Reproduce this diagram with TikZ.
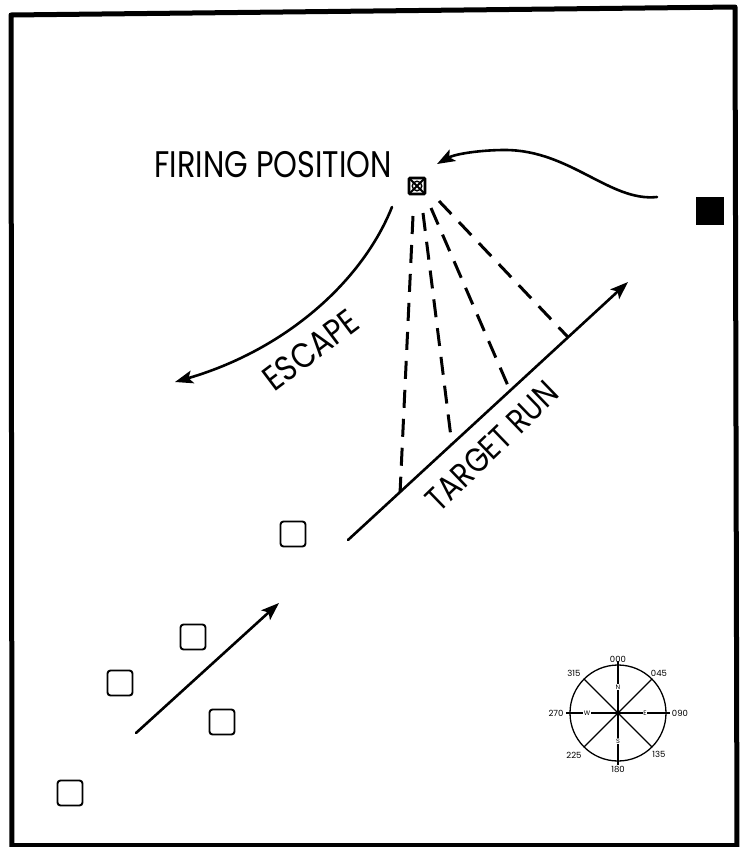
\documentclass[tikz,border=0pt]{standalone}
\usepackage{fontspec}
\setmainfont{Poppins}
\usetikzlibrary{arrows.meta,calc}
\tikzset{
  thickline/.style={line width=2.6pt,line cap=round},
  bigtip/.style={-{Stealth[length=18pt,width=13pt,inset=4pt]}},
  dashray/.style={line width=3pt,dash pattern=on 18pt off 11pt},
  ownpos/.style={draw,line width=1.9pt,rounded corners=3pt,minimum size=25pt,inner sep=0pt},
  enemypos/.style={fill=black,minimum size=28pt,inner sep=0pt},
  firepos/.style={draw,line width=2.6pt,rounded corners=1pt,minimum size=16pt,inner sep=0pt,
    path picture={\draw[line width=1.8pt] (path picture bounding box.south west) -- (path picture bounding box.north east)
      (path picture bounding box.north west) -- (path picture bounding box.south east);
      \draw[line width=1.4pt] (path picture bounding box.center) circle (4.8pt);}},
  lbl/.style={font=\fontsize{37}{37}\selectfont,inner sep=0pt},
  comp/.style={font=\fontsize{8.5}{8.5}\selectfont,inner sep=0.5pt},
  completter/.style={font=\fontsize{6.5}{6.5}\selectfont,inner sep=0.8pt,fill=white}
}
\begin{document}
\begin{tikzpicture}[x=1pt,y=-1pt]
\useasboundingbox (0,0) rectangle (742,847);
% frame
\draw[line width=5pt,line join=round] (12,850) -- (11,15) -- (735,7) -- (737,850);
\draw[line width=4pt] (12,845) -- (737,845);

% firing position
\node[firepos] (fp) at (417,186) {};
\node[lbl,anchor=east] (fplabel) at (392,165) {\scalebox{0.82}[1]{FIRING POSITION}};

% enemy
\node[enemypos] (enemy) at (710,211) {};
\coordinate (appr0) at (657,197);
\coordinate (appr1) at (437,164);
\draw[thickline,bigtip] (appr0) .. controls (610,202) and (570,150) .. (505,150) .. controls (480,150) and (455,154) .. (appr1);

% escape
\coordinate (esc0) at (392,207);
\coordinate (esc1) at (175,382);
\draw[thickline,bigtip] (esc0) .. controls (362,282) and (285,350) .. (esc1);
\node[lbl,rotate=37,font=\fontsize{35}{35}\selectfont] (esclabel) at (311,350) {\scalebox{0.86}[1]{ESCAPE}};

% target run
\coordinate (tr0) at (348,540);
\coordinate (tr1) at (628,282);
\draw[thickline,bigtip] (tr0) -- (tr1);
\node[lbl,rotate=44,font=\fontsize{34}{34}\selectfont] (trlabel) at (492,446) {\scalebox{0.84}[1]{TARGET RUN}};

% dashed rays
\coordinate (d1) at ($(tr0)!0.186!(tr1)$);
\coordinate (d2) at ($(tr0)!0.371!(tr1)$);
\coordinate (d3) at ($(tr0)!0.579!(tr1)$);
\coordinate (d4) at ($(tr0)!0.786!(tr1)$);
\draw[dashray] ($(fp)+(-4,30)$) -- (d1);
\draw[dashray] ($(fp)+(6,27)$) -- (d2);
\draw[dashray] ($(fp)+(14,22)$) -- (d3);
\draw[dashray] ($(fp)+(22,15)$) -- (d4);

% own positions
\node[ownpos] (s1) at (293,534) {};
\node[ownpos] (s2) at (193,637) {};
\node[ownpos] (s3) at (120,683) {};
\node[ownpos] (s4) at (222,722) {};
\node[ownpos] (s5) at (70,793) {};
\coordinate (mv0) at (136,733);
\coordinate (mv1) at (279,603);
\draw[thickline,bigtip] (mv0) -- (mv1);

% compass
\coordinate (cc) at (618,713);
\draw[line width=1.3pt] (cc) circle (48pt);
\foreach \a in {45,135,225,315} \draw[line width=1.2pt] (cc) -- ++(\a:48pt);
\foreach \a in {0,90,180,270} \draw[line width=1.2pt] (cc) -- ++(\a:52pt);
\fill (cc) circle (2.5pt);
\node[completter] (cN) at (618,687) {N};
\node[completter] (cE) at (645,713) {E};
\node[completter] (cS) at (618,741) {S};
\node[completter] (cW) at (587,713) {W};
\node[comp] (c000) at (618,659) {000};
\node[comp] (c045) at (659,673) {045};
\node[comp] (c090) at (680,713) {090};
\node[comp] (c135) at (659,754) {135};
\node[comp] (c180) at (618,769) {180};
\node[comp] (c225) at (574,755) {225};
\node[comp] (c270) at (556,713) {270};
\node[comp] (c315) at (574,673) {315};
\end{tikzpicture}
\end{document}
